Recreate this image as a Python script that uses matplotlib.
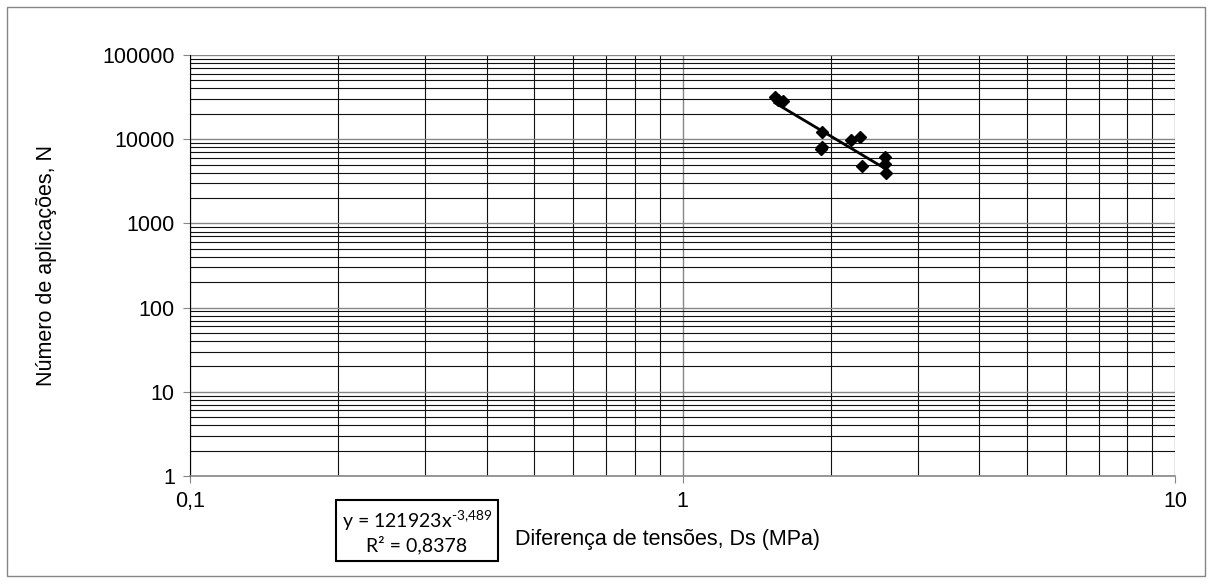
import matplotlib.pyplot as plt
import numpy as np
from matplotlib.patches import Rectangle

plt.rcParams['font.family'] = ['Liberation Sans', 'DejaVu Sans']
plt.rcParams['mathtext.fontset'] = 'custom'
plt.rcParams['mathtext.rm'] = 'Lato'

# data
ds = [1.54, 1.56, 1.60, 1.92, 1.91, 1.92, 2.20, 2.29, 2.31, 2.58, 2.58, 2.59]
n_apl = [32000, 29500, 28500, 12300, 7600, 8000, 9700, 10500, 4750, 6100, 5100, 4000]
coef_a = 121923
coef_b = -3.489
eq_text = "y = 121923x$^{\\text{-3,489}}$\nR² = 0,8378"

xticks = [0.1, 1, 10]
xticklabels = ["0,1", "1", "10"]
yticks = [1, 10, 100, 1000, 10000, 100000]
yticklabels = ["1", "10", "100", "1000", "10000", "100000"]

fig = plt.figure(figsize=(12.12, 5.83), dpi=100)
ax = fig.add_axes([0.1568, 0.1835, 0.8127, 0.7222])

ax.set_xscale("log")
ax.set_yscale("log")
ax.set_xlim(0.1, 10)
ax.set_ylim(1, 100000)

ax.grid(True, which="major", color="#868686", linewidth=1.0)
ax.grid(True, which="minor", color="#111111", linewidth=0.8)
ax.set_axisbelow(True)

xs = np.linspace(min(ds), max(ds), 50)
ax.plot(xs, coef_a * xs ** coef_b, color="black", linewidth=2, zorder=3)
ax.plot(ds, n_apl, linestyle="none", marker="D", markersize=6.5,
        color="black", zorder=4)

ax.set_xticks(xticks)
ax.set_xticklabels(xticklabels)
ax.set_yticks(yticks)
ax.set_yticklabels(yticklabels)
ax.tick_params(which="minor", length=0)
ax.tick_params(which="major", length=5, direction="out", labelsize=15.5,
               color="#868686", pad=6)

for s in ["top", "right"]:
    ax.spines[s].set_visible(False)
ax.spines["left"].set_color("black")
ax.spines["bottom"].set_color("#868686")
ax.spines["bottom"].set_linewidth(1.2)

ax.set_xlabel("Diferença de tensões, Ds (MPa)", fontsize=15.5)
ax.xaxis.set_label_coords(0.4845, -0.125)
ax.set_ylabel("Número de aplicações, N", fontsize=15.5)
ax.yaxis.set_label_coords(-0.135, 0.5)

fig.text(0.344, 0.0885, eq_text, ha="center", va="center", fontsize=14,
         linespacing=1.2, family="Lato",
         bbox=dict(boxstyle="square,pad=0.3", facecolor="white",
                   edgecolor="black", linewidth=1.5))

fig.patches.append(Rectangle((0.006, 0.012), 0.988, 0.976,
                             transform=fig.transFigure, fill=False,
                             edgecolor="#868686", linewidth=1))

fig.savefig("out.png", dpi=100)
